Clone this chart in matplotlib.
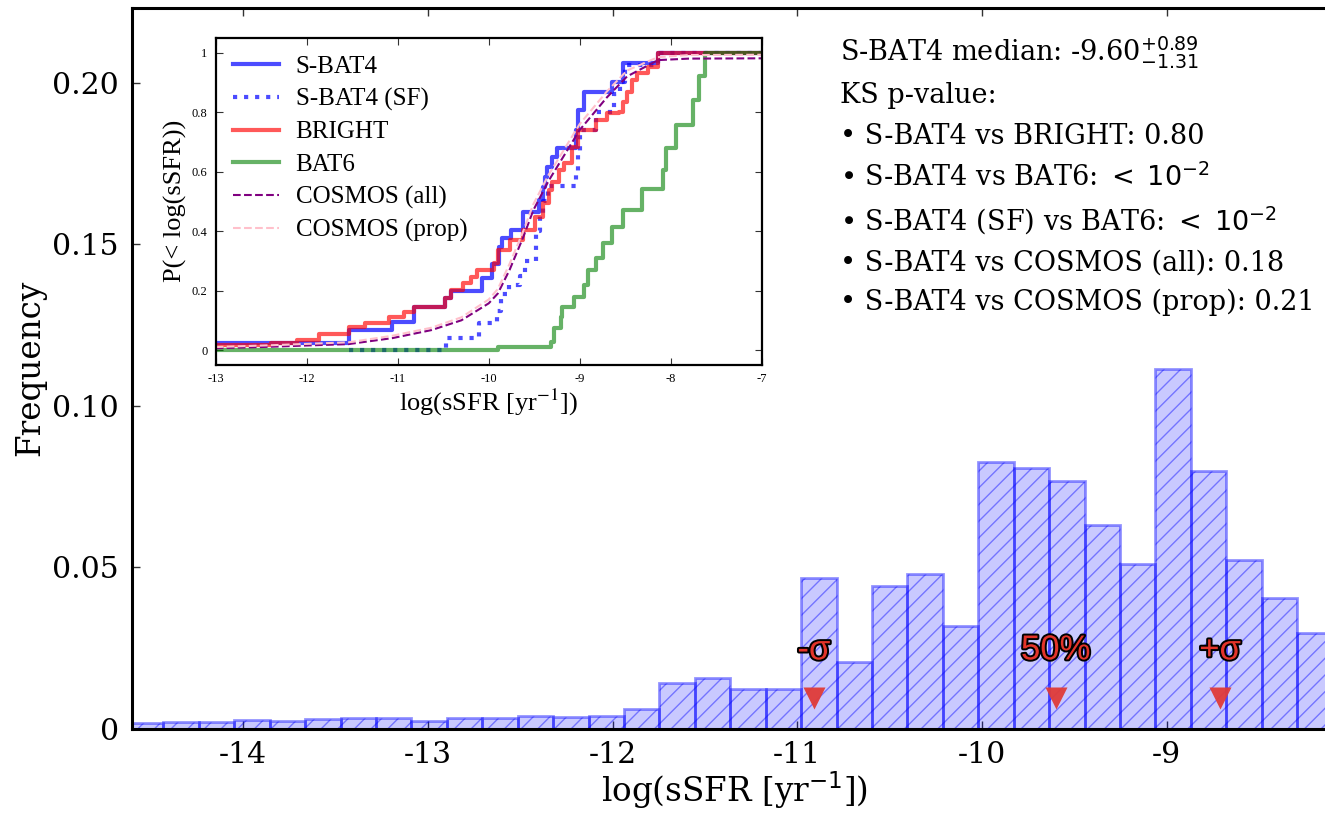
import numpy as np
import matplotlib
matplotlib.use('Agg')
import matplotlib.pyplot as plt
import matplotlib.patheffects as pe
from matplotlib.ticker import FixedLocator, FuncFormatter

plt.rcParams['axes.unicode_minus'] = False
plt.rcParams['mathtext.fontset'] = 'dejavusans'
plt.rcParams['hatch.linewidth'] = 1.0

# ---------------- data ----------------
# histogram of log(sSFR) (normalised frequency)
hist_lo, hist_hi = -14.624, -8.101
freq = [0.0017, 0.0020, 0.0020, 0.0025, 0.0024, 0.0028, 0.0031, 0.0031, 0.0024,
        0.0033, 0.0031, 0.0039, 0.0036, 0.0039, 0.0060, 0.0142, 0.0157, 0.0121,
        0.0121, 0.0467, 0.0205, 0.0442, 0.0479, 0.0318, 0.0827, 0.0806, 0.0768,
        0.0631, 0.0510, 0.1113, 0.0799, 0.0522, 0.0405, 0.0297]

median_val = -9.60
err_plus = 0.89
err_minus = 1.31
marker_labels = ['-σ', '50%', '+σ']
marker_y = 0.0096
label_y = 0.0214

main_xticks = [-14, -13, -12, -11, -10, -9]
main_yticks = [0, 0.05, 0.10, 0.15, 0.20]

# cumulative distributions (inset)
sbat4_x = [-13.00, -11.54, -11.06, -10.82, -10.48, -10.41, -10.07, -9.96, -9.89, -9.85,
           -9.75, -9.62, -9.45, -9.40, -9.38, -9.36, -9.30, -9.25, -9.04, -9.02,
           -8.95, -8.65, -8.52, -8.14, -7.00]
sbat4_y = [0.022, 0.068, 0.095, 0.146, 0.174, 0.200, 0.241, 0.290, 0.348, 0.376,
           0.404, 0.465, 0.504, 0.549, 0.583, 0.617, 0.650, 0.678, 0.740, 0.807,
           0.869, 0.900, 0.964, 1.000, 1.000]

sf_x = [-11.54, -10.47, -10.11, -9.91, -9.87, -9.78, -9.66, -9.60, -9.48, -9.44,
        -9.40, -9.35, -9.04, -9.02, -9.00, -8.82, -8.62, -8.56, -8.50, -8.14, -7.00]
sf_y = [0.000, 0.040, 0.090, 0.130, 0.190, 0.220, 0.250, 0.300, 0.400, 0.450,
        0.500, 0.550, 0.600, 0.660, 0.740, 0.800, 0.860, 0.900, 0.960, 1.000, 1.000]

bright_x = [-13.00, -12.39, -12.11, -11.87, -11.54, -11.36, -11.10, -10.93, -10.82, -10.48,
            -10.41, -10.28, -10.20, -10.13, -9.94, -9.90, -9.77, -9.62, -9.49, -9.40,
            -9.34, -9.30, -9.23, -9.17, -9.08, -9.02, -8.82, -8.70, -8.57, -8.52,
            -8.48, -8.42, -8.37, -8.25, -8.14, -7.00]
bright_y = [0.017, 0.022, 0.034, 0.054, 0.078, 0.090, 0.112, 0.129, 0.146, 0.174,
            0.202, 0.224, 0.247, 0.269, 0.291, 0.336, 0.370, 0.404, 0.448, 0.493,
            0.538, 0.566, 0.605, 0.628, 0.684, 0.740, 0.773, 0.796, 0.800, 0.835,
            0.869, 0.908, 0.930, 0.953, 1.000, 1.000]

bat6_x = [-13.00, -9.90, -9.32, -9.28, -9.21, -9.19, -9.06, -8.95, -8.91, -8.82,
          -8.74, -8.65, -8.52, -8.31, -8.09, -8.05, -7.94, -7.75, -7.69, -7.62, -7.00]
bat6_y = [0.000, 0.011, 0.028, 0.073, 0.112, 0.146, 0.180, 0.220, 0.270, 0.310,
          0.360, 0.415, 0.470, 0.540, 0.605, 0.680, 0.757, 0.840, 0.920, 1.000, 1.000]

cosmos_x = [-13.0, -12.4, -11.54, -11.06, -10.63, -10.3, -10.0, -9.9, -9.77, -9.62,
            -9.51, -9.34, -9.12, -9.0, -8.7, -8.48, -8.14, -7.8, -7.0]
cosmos_all_y = [0.006, 0.011, 0.020, 0.040, 0.067, 0.100, 0.157, 0.190, 0.270, 0.380,
                0.470, 0.570, 0.680, 0.740, 0.850, 0.920, 0.975, 0.980, 0.981]
cosmos_prop_y = [0.010, 0.016, 0.026, 0.048, 0.075, 0.110, 0.170, 0.205, 0.290, 0.400,
                 0.490, 0.590, 0.700, 0.760, 0.870, 0.940, 0.985, 0.992, 0.993]

inset_xticks = [-13, -12, -11, -10, -9, -8, -7]
inset_yticks = [0, 0.2, 0.4, 0.6, 0.8, 1.0]

ks_lines = ['S-BAT4 median: -9.60$^{+0.89}_{-1.31}$',
            'KS p-value:',
            '• S-BAT4 vs BRIGHT: 0.80',
            r'• S-BAT4 vs BAT6: $<\;10^{-2}$',
            r'• S-BAT4 (SF) vs BAT6: $<\;10^{-2}$',
            '• S-BAT4 vs COSMOS (all): 0.18',
            '• S-BAT4 vs COSMOS (prop): 0.21']

# ---------------- figure ----------------
W, H = 1325, 813
fig = plt.figure(figsize=(W / 100, H / 100), dpi=100)

ax = fig.add_axes([131.5 / W, (H - 728.5) / H, 1205.0 / W, 720.5 / H])
edges = np.linspace(hist_lo, hist_hi, len(freq) + 1)
ax.bar(edges[:-1], freq, width=np.diff(edges), align='edge',
       facecolor=(0, 0, 1, 0.21), edgecolor=(0, 0, 1, 0.42),
       hatch='//', linewidth=2.0, zorder=2)

mx = [median_val - err_minus, median_val, median_val + err_plus]
ax.plot(mx, [marker_y] * 3, linestyle='none', marker='v', ms=16,
        color='#e03b38', mec='none', alpha=0.95, zorder=4)
for x, lab in zip(mx, marker_labels):
    ax.text(x, label_y, lab, ha='center', va='baseline', fontsize=25,
            family='Liberation Sans', color='#e3342a', zorder=5,
            path_effects=[pe.withStroke(linewidth=2.8, foreground='black')])

ax.set_xlim(-14.605, -8.08)
ax.set_ylim(0, 0.2232)
ax.xaxis.set_major_locator(FixedLocator(main_xticks))
ax.yaxis.set_major_locator(FixedLocator(main_yticks))
ax.xaxis.set_major_formatter(FuncFormatter(lambda v, p: '%d' % round(v)))
ax.yaxis.set_major_formatter(FuncFormatter(lambda v, p: '0' if abs(v) < 1e-9 else '%.2f' % v))
ax.tick_params(direction='in', top=True, right=True, length=6, width=1,
               color='#333333', labelsize=21.5, pad=9)
for lab in ax.get_xticklabels() + ax.get_yticklabels():
    lab.set_family('DejaVu Serif')
for s in ax.spines.values():
    s.set_linewidth(2.2)
ax.set_xlabel('log(sSFR [yr$^{-1}$])', fontsize=23.5, family='DejaVu Serif', labelpad=0)
ax.set_ylabel('Frequency', fontsize=23.5, family='DejaVu Serif', labelpad=4)

# KS text block
baselines = [60.7, 103.3, 144.0, 185.7, 230.7, 270.7, 310.0]
for line, yb in zip(ks_lines, baselines):
    fig.text(840.0 / W, 1 - yb / H, line, ha='left', va='baseline',
             fontsize=19.5, family='DejaVu Serif')

# ---------------- inset ----------------
axin = fig.add_axes([215.7 / W, (H - 364.9) / H, 546.0 / W, 327.1 / H])
axin.plot(sbat4_x, sbat4_y, drawstyle='steps-post', color='blue', alpha=0.7, lw=3, label='S-BAT4')
axin.plot(sf_x, sf_y, drawstyle='steps-post', color='blue', alpha=0.7, lw=3,
          linestyle=':', label='S-BAT4 (SF)')
axin.plot(bright_x, bright_y, drawstyle='steps-post', color='red', alpha=0.65, lw=3, label='BRIGHT')
axin.plot(bat6_x, bat6_y, drawstyle='steps-post', color='green', alpha=0.6, lw=3, label='BAT6')
axin.plot(cosmos_x, cosmos_all_y, color='purple', lw=1.5, linestyle='--', label='COSMOS (all)')
axin.plot(cosmos_x, cosmos_prop_y, color='pink', lw=1.5, linestyle='--', label='COSMOS (prop)')

axin.set_xlim(-13, -7)
axin.set_ylim(-0.05, 1.05)
axin.xaxis.set_major_locator(FixedLocator(inset_xticks))
axin.yaxis.set_major_locator(FixedLocator(inset_yticks))
axin.xaxis.set_major_formatter(FuncFormatter(lambda v, p: '%d' % round(v)))
axin.yaxis.set_major_formatter(FuncFormatter(lambda v, p: ('%d' % round(v)) if abs(v - round(v)) < 1e-9 else '%.1f' % v))
axin.tick_params(direction='in', top=True, right=True, length=5, width=0.8,
                 color='#333333', labelsize=9, pad=6)
for lab in axin.get_xticklabels() + axin.get_yticklabels():
    lab.set_family('Liberation Serif')
for s in axin.spines.values():
    s.set_linewidth(1.6)
axin.set_xlabel('log(sSFR [yr$^{-1}$])', fontsize=19, family='Liberation Serif',
                math_fontfamily='stix', labelpad=1)
axin.set_ylabel('P(< log(sSFR))', fontsize=19, family='Liberation Serif', labelpad=3)
leg = axin.legend(loc='upper left', frameon=False, prop={'family': 'Liberation Serif', 'size': 18},
                  handlelength=1.85, handletextpad=0.65, labelspacing=0.4,
                  borderaxespad=0.3, borderpad=0.4)

fig.savefig('out.png', dpi=100)
